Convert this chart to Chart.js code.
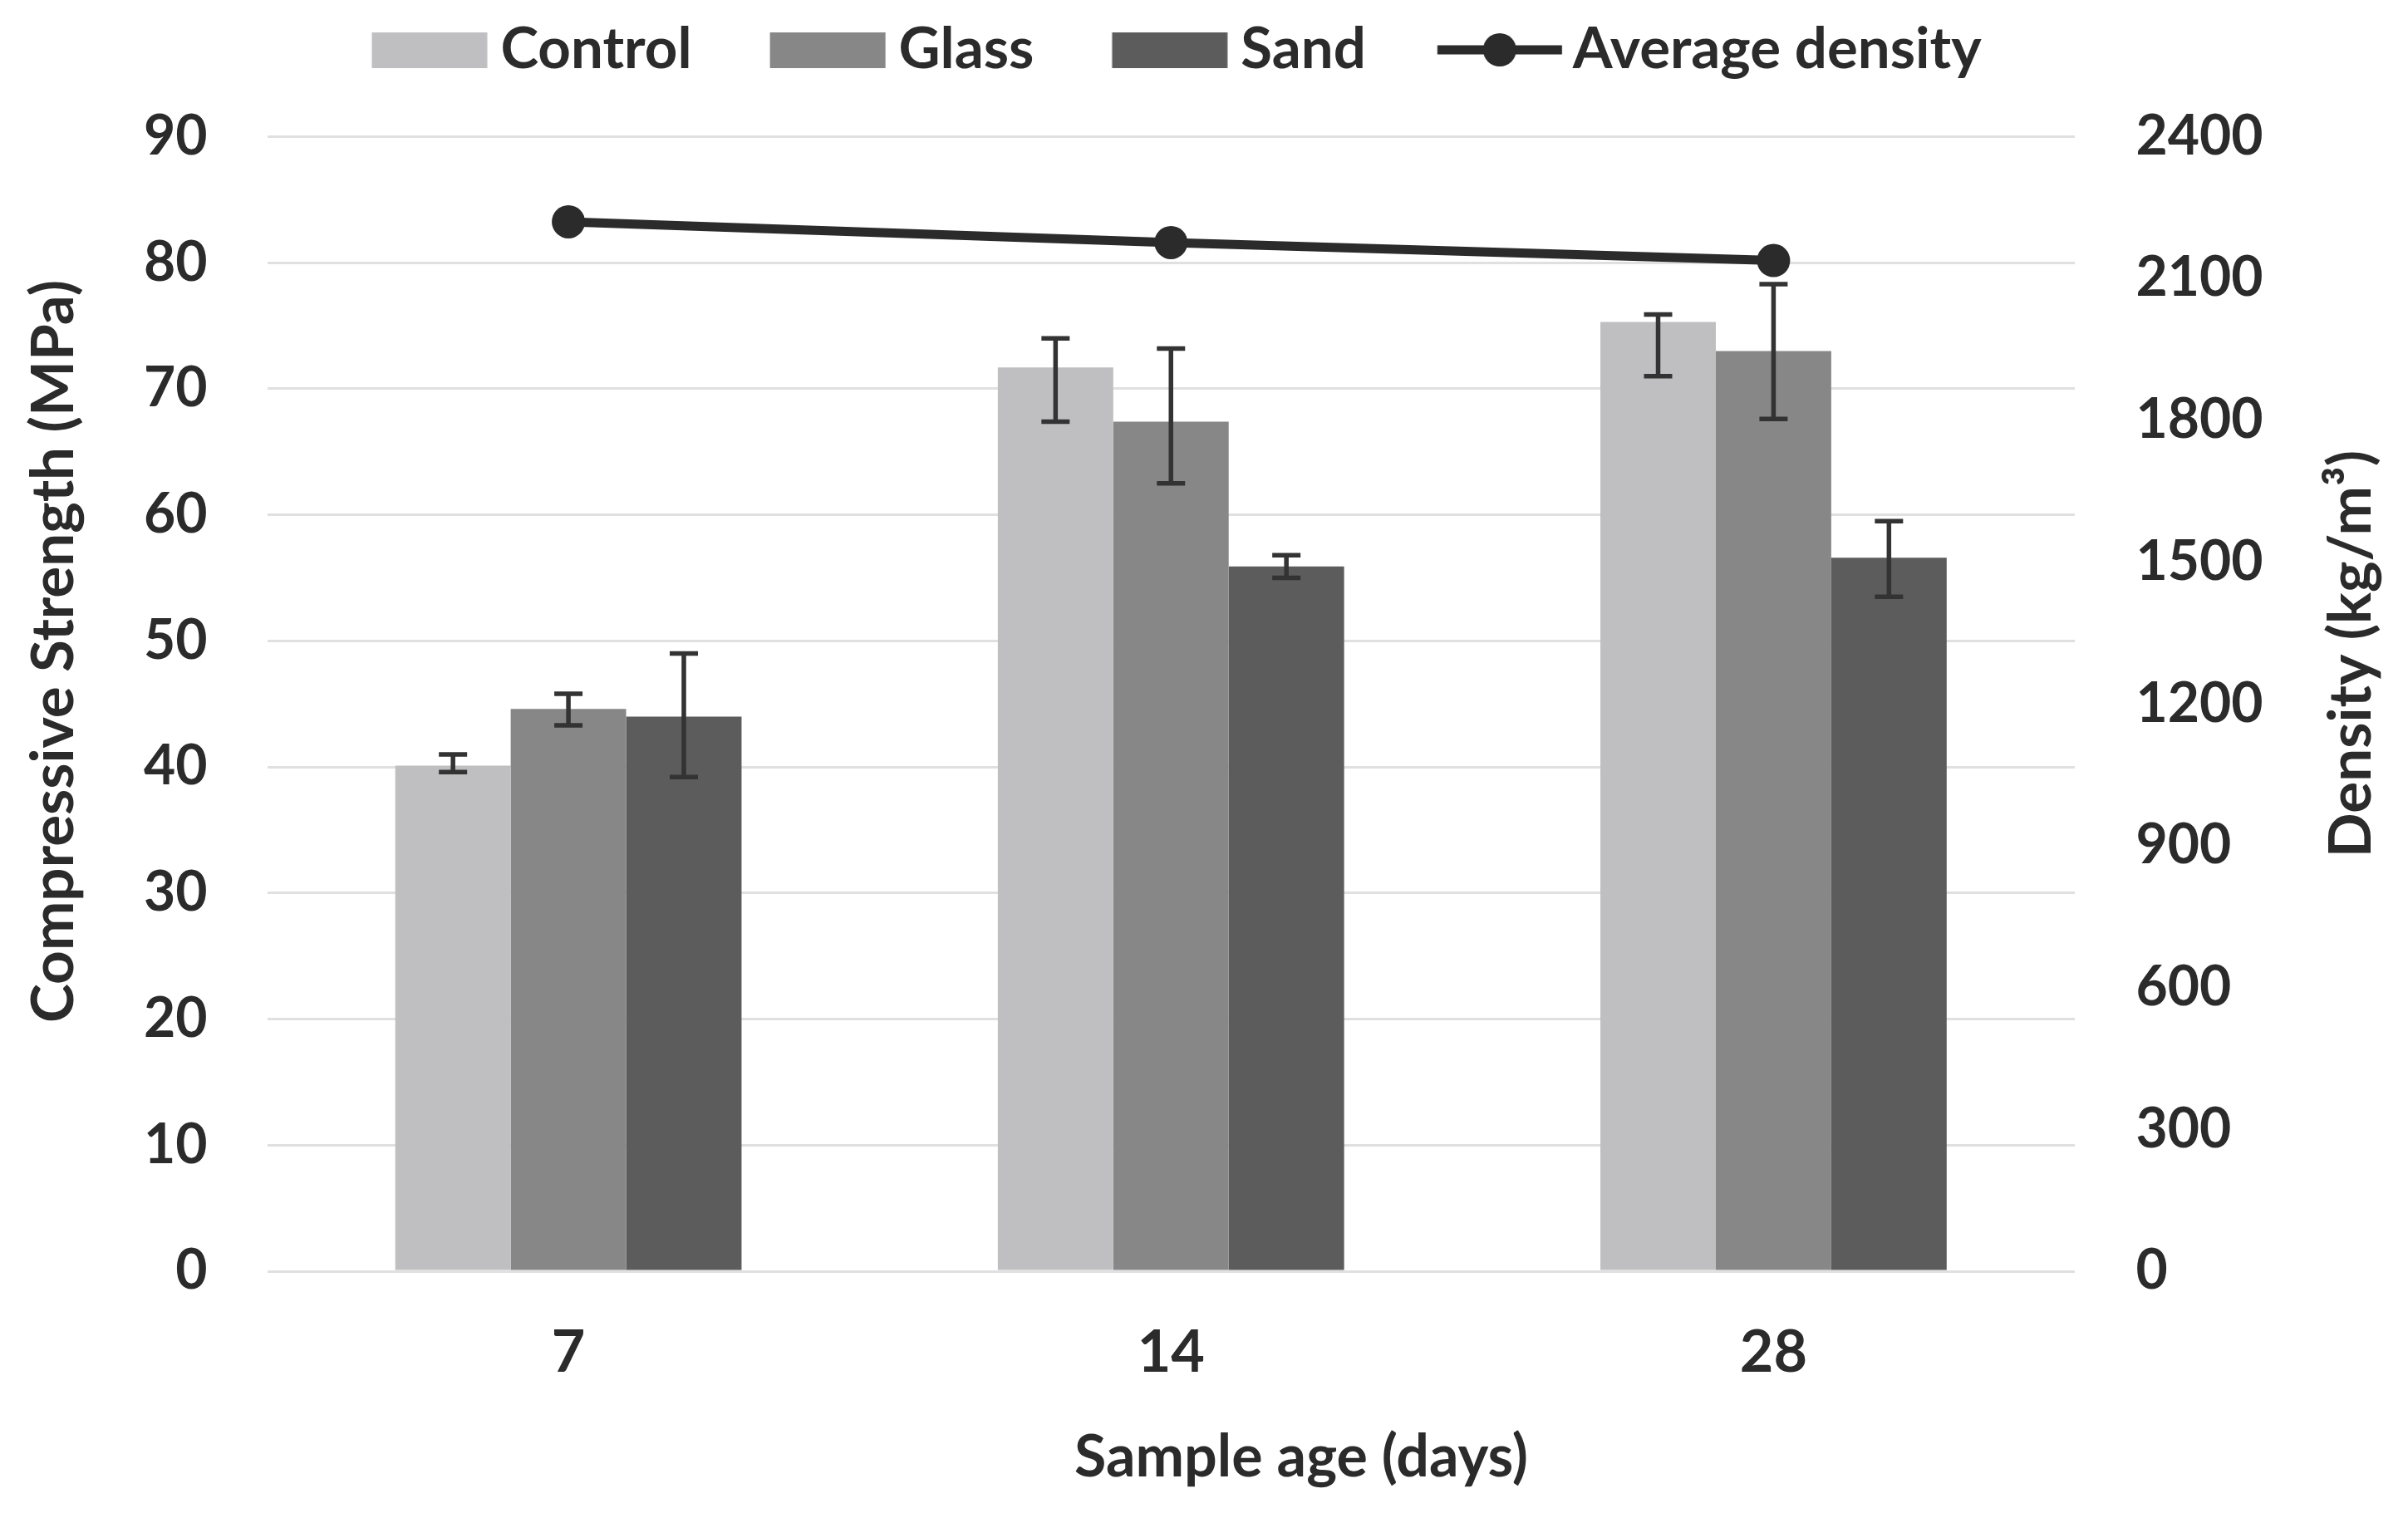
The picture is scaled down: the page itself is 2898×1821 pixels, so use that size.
<!DOCTYPE html>
<html>
<head>
<meta charset="utf-8">
<script src="https://cdn.jsdelivr.net/npm/chart.js@4.4.1/dist/chart.umd.min.js"></script>
<style>
  html, body { margin: 0; padding: 0; background: #ffffff; overflow: hidden; }
  #wrap { width: 2898px; height: 1821px; position: relative; }
</style>
</head>
<body>
<div id="wrap"><canvas id="c" width="2898" height="1821"></canvas></div>
<script>
// ---------------- data ----------------
const categories = ['7', '14', '28'];
const seriesNames = ['Control', 'Glass', 'Sand', 'Average density'];
const control = [40.1, 71.7, 75.3];
const glass = [44.6, 67.4, 73.0];
const sand = [44.0, 55.9, 56.6];
const controlErrPlus = [0.9, 2.3, 0.6];
const controlErrMinus = [0.5, 4.3, 4.3];
const glassErrPlus = [1.2, 5.8, 5.3];
const glassErrMinus = [1.3, 4.9, 5.4];
const sandErrPlus = [5.0, 0.9, 2.9];
const sandErrMinus = [4.8, 0.9, 3.1];
const density = [2220, 2176, 2138];
const strengthTicks = [0, 10, 20, 30, 40, 50, 60, 70, 80, 90];
const densityTicks = [0, 300, 600, 900, 1200, 1500, 1800, 2100, 2400];
const xTitle = 'Sample age (days)';
const yTitle = 'Compressive Strength (MPa)';
const y1Title = 'Density (kg/m\u00B3)';

// ---------------- style ----------------
const FONT = 'Lato';
const TEXT = '#2b2b2b';
const C_CONTROL = '#bfbfc1';
const C_GLASS = '#878787';
const C_SAND = '#5c5c5c';
const C_LINE = '#2b2b2b';
const GRID = '#e0e0e0';

const LEG_FONT = 69;
const P = 194.5;          // legend pointStyleWidth (includes leading spacer)
const HALF = LEG_FONT / 2;

function makeSwatch(left, right, draw) {
  const c = P / 2;
  const half = Math.ceil(Math.max(c - left, right - c)) + 2;
  const cv = document.createElement('canvas');
  cv.width = 2 * half;
  cv.height = 60;
  const ctx = cv.getContext('2d');
  const ox = half - c; // canvas x corresponding to legend item x
  draw(ctx, ox, 30);
  return cv;
}
function rectSwatch(color) {
  const r = P + HALF - 16, l = r - 139;
  return makeSwatch(l, r, (ctx, ox, cy) => {
    ctx.fillStyle = color;
    ctx.fillRect(ox + l, cy - 21, 139, 43);
  });
}
function lineSwatch(color) {
  const r = P + HALF - 13, l = r - 150;
  return makeSwatch(l, r, (ctx, ox, cy) => {
    ctx.strokeStyle = color;
    ctx.lineWidth = 11;
    ctx.beginPath();
    ctx.moveTo(ox + l, cy);
    ctx.lineTo(ox + r, cy);
    ctx.stroke();
    ctx.fillStyle = color;
    ctx.beginPath();
    ctx.arc(ox + (l + r) / 2, cy, 20, 0, Math.PI * 2);
    ctx.fill();
  });
}

const errorBars = {
  id: 'errorBars',
  afterDatasetsDraw(chart) {
    const ctx = chart.ctx;
    const yScale = chart.scales.y;
    const errs = [[controlErrPlus, controlErrMinus], [glassErrPlus, glassErrMinus], [sandErrPlus, sandErrMinus]];
    ctx.save();
    ctx.strokeStyle = '#333333';
    ctx.lineWidth = 5.5;
    ctx.lineCap = 'butt';
    errs.forEach((pm, di) => {
      const meta = chart.getDatasetMeta(di);
      const vals = chart.data.datasets[di].data;
      meta.data.forEach((bar, i) => {
        const x = bar.x;
        const yt = yScale.getPixelForValue(vals[i] + pm[0][i]);
        const yb = yScale.getPixelForValue(vals[i] - pm[1][i]);
        ctx.beginPath();
        ctx.moveTo(x, yt); ctx.lineTo(x, yb);
        ctx.moveTo(x - 17, yt); ctx.lineTo(x + 17, yt);
        ctx.moveTo(x - 17, yb); ctx.lineTo(x + 17, yb);
        ctx.stroke();
      });
    });
    ctx.restore();
  }
};

const axisTitles = {
  id: 'axisTitles',
  afterDraw(chart) {
    const ctx = chart.ctx;
    ctx.save();
    ctx.fillStyle = TEXT;
    ctx.font = 'bold 71px ' + FONT;
    ctx.textAlign = 'center';
    ctx.textBaseline = 'alphabetic';
    // left
    ctx.save();
    ctx.translate(88, 784);
    ctx.rotate(-Math.PI / 2);
    ctx.fillText(yTitle, 0, 0);
    ctx.restore();
    // right
    ctx.save();
    ctx.translate(2853, 787);
    ctx.rotate(-Math.PI / 2);
    ctx.fillText(y1Title, 0, 0);
    ctx.restore();
    // bottom
    ctx.font = 'bold 70px ' + FONT;
    ctx.fillText(xTitle, 1566, 1777);
    ctx.restore();
  }
};

const legendGap = {
  id: 'legendGap',
  beforeInit(chart) {
    const box = {
      position: 'top', weight: 500, fullSize: true, options: {},
      width: 0, height: 0, left: 0, top: 0, right: 0, bottom: 0,
      isHorizontal() { return true; },
      update(maxWidth) { this.width = maxWidth; this.height = 60; return this; },
      draw() {}
    };
    Chart.layouts.addBox(chart, box);
  }
};

function build() {
  const swatches = [rectSwatch(C_CONTROL), rectSwatch(C_GLASS), rectSwatch(C_SAND), lineSwatch(C_LINE)];
  new Chart(document.getElementById('c'), {
    type: 'bar',
    data: {
      labels: categories,
      datasets: [
        { label: seriesNames[0], data: control, backgroundColor: C_CONTROL, yAxisID: 'y', categoryPercentage: 0.5747, barPercentage: 1.0 },
        { label: seriesNames[1], data: glass, backgroundColor: C_GLASS, yAxisID: 'y', categoryPercentage: 0.5747, barPercentage: 1.0 },
        { label: seriesNames[2], data: sand, backgroundColor: C_SAND, yAxisID: 'y', categoryPercentage: 0.5747, barPercentage: 1.0 },
        { type: 'line', label: seriesNames[3], data: density, yAxisID: 'y1', borderColor: C_LINE, backgroundColor: C_LINE,
          borderWidth: 11, pointRadius: 20, pointBackgroundColor: C_LINE, pointBorderWidth: 0, tension: 0, fill: false }
      ]
    },
    options: {
      responsive: false,
      animation: false,
      devicePixelRatio: 1,
      events: [],
      layout: { padding: { top: 5.5, right: 140, bottom: 0, left: 0 } },
      plugins: {
        tooltip: { enabled: false },
        title: { display: false },
        legend: {
          display: true,
          position: 'top',
          labels: {
            usePointStyle: true,
            pointStyleWidth: P,
            boxHeight: 43,
            padding: 20,
            color: TEXT,
            font: { family: FONT, size: LEG_FONT, weight: 'bold' },
            generateLabels(chart) {
              const items = Chart.defaults.plugins.legend.labels.generateLabels(chart);
              items.forEach(it => { it.pointStyle = swatches[it.datasetIndex]; it.fontColor = TEXT; });
              return items;
            }
          }
        }
      },
      scales: {
        x: {
          grid: { display: false, drawTicks: false },
          border: { display: false },
          ticks: { color: TEXT, font: { family: FONT, size: 70, weight: 'bold' }, padding: 56 },
          afterFit(scale) { scale.height = 291; }
        },
        y: {
          position: 'left',
          min: 0, max: 90,
          afterBuildTicks(scale) { scale.ticks = strengthTicks.map(v => ({ value: v })); },
          grid: { color: GRID, lineWidth: 3, drawTicks: false },
          border: { display: false },
          ticks: { color: TEXT, font: { family: FONT, size: 66, weight: 'bold' }, padding: 72, callback: v => String(v) },
          afterFit(scale) { scale.width = 321.5; }
        },
        y1: {
          position: 'right',
          min: 0, max: 2400,
          afterBuildTicks(scale) { scale.ticks = densityTicks.map(v => ({ value: v })); },
          grid: { display: false, drawTicks: false },
          border: { display: false },
          ticks: { color: TEXT, font: { family: FONT, size: 66, weight: 'bold' }, padding: 73.5, callback: v => String(v) },
          afterFit(scale) { scale.width = 2898 - 140 - 2497; }
        }
      }
    },
    plugins: [legendGap, errorBars, axisTitles]
  });
}

const fontsReady = (document.fonts && document.fonts.load)
  ? Promise.all([document.fonts.load('bold 69px Lato'), document.fonts.load('bold 71px Lato')]).catch(() => {})
  : Promise.resolve();
fontsReady.then(build, build);
</script>
</body>
</html>
